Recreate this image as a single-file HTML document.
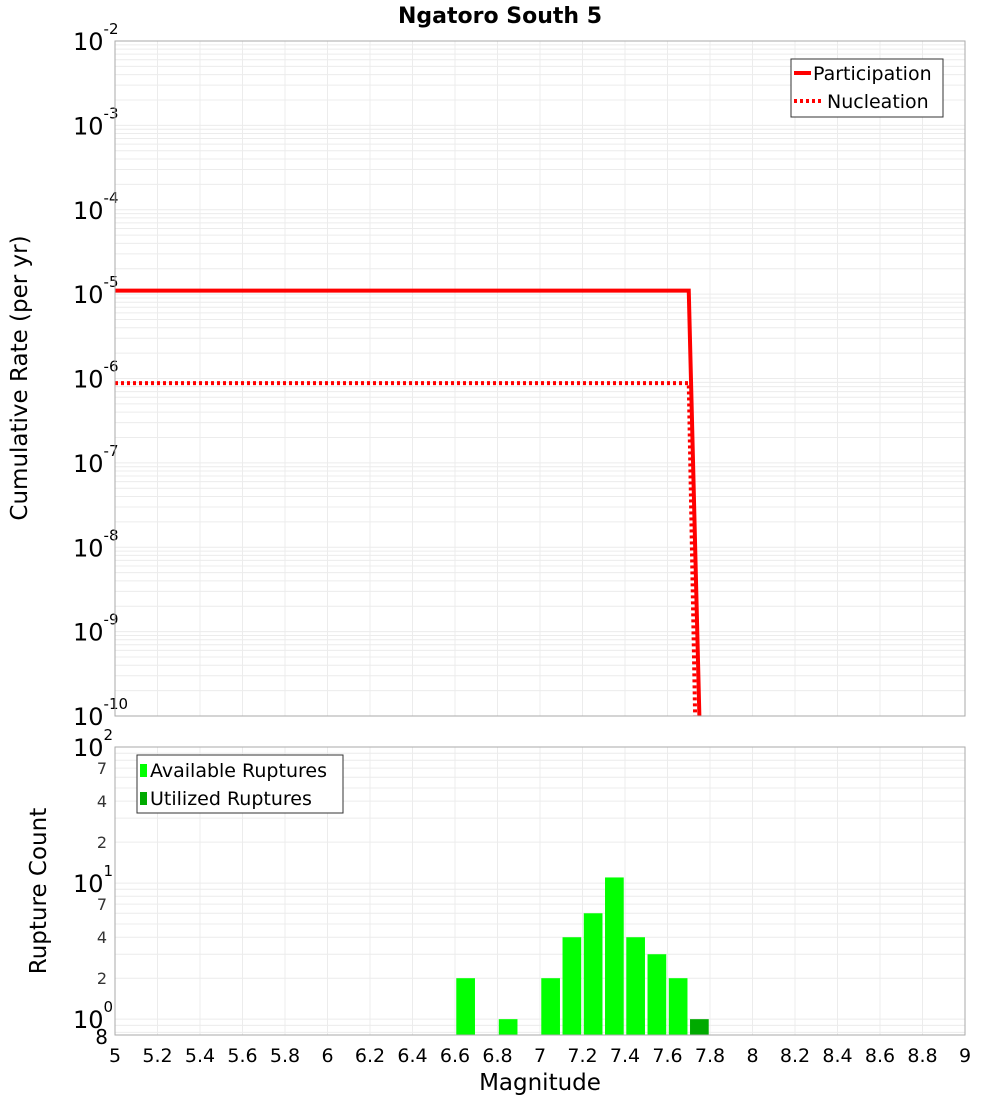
<!DOCTYPE html>
<html><head><meta charset="utf-8"><style>
body{margin:0;background:#fff;width:1000px;height:1100px;overflow:hidden}
svg{font-family:"DejaVu Sans","Liberation Sans",sans-serif}
</style></head><body>
<svg id="chart" width="1000" height="1100" xmlns="http://www.w3.org/2000/svg">
<text x="500" y="23" text-anchor="middle" font-size="22" font-weight="bold">Ngatoro South 5</text>
<g id="top"></g><g id="bot"></g>
<text transform="translate(27,378) rotate(-90)" text-anchor="middle" font-size="23">Cumulative Rate (per yr)</text>
<text transform="translate(46,891) rotate(-90)" text-anchor="middle" font-size="23">Rupture Count</text>
<text x="540" y="1090" text-anchor="middle" font-size="23">Magnitude</text>
</svg>
<script>
const xTicks=[5,5.2,5.4,5.6,5.8,6,6.2,6.4,6.6,6.8,7,7.2,7.4,7.6,7.8,8,8.2,8.4,8.6,8.8,9];
const topDecades=[-10,-9,-8,-7,-6,-5,-4,-3,-2];
const partM=[5,7.7,7.75];
const partRate=[1.1e-5,1.1e-5,1e-10];
const nuclM=[5,7.7,7.73];
const nuclRate=[8.8e-7,8.8e-7,1e-10];
const binM=[6.65,6.85,7.05,7.15,7.25,7.35,7.45,7.55,7.65];
const binCount=[2,1,2,4,6,11,4,3,2];
const usedM=[7.75];
const usedCount=[1];
const botMinor=[2,4,7];

const NS="http://www.w3.org/2000/svg";
const L=115,R=965,T1=41,B1=716,T2=747,B2=1035;
const xs=m=>L+(m-5)/(9-5)*(R-L);
const y1=v=>B1-(Math.log10(v)+10)/8*(B1-T1);
const bmin=Math.log10(0.765);
const y2=v=>B2-(Math.log10(v)-bmin)/(2-bmin)*(B2-T2);
function mk(p,tag,a){const e=document.createElementNS(NS,tag);for(const k in a)e.setAttribute(k,a[k]);p.appendChild(e);return e;}
const gTop=document.getElementById('top'),gBot=document.getElementById('bot');

[[gTop,T1,B1],[gBot,T2,B2]].forEach(([g,t,b])=>{
  xTicks.forEach(m=>{const l=mk(g,'line',{x1:xs(m),x2:xs(m),y1:t,y2:b,stroke:'#ececec'});
  
  });
});
topDecades.forEach(d=>{for(let k=1;k<10;k++){const v=k*Math.pow(10,d);if(v>1e-2*1.0001)break;
  const l=mk(gTop,'line',{x1:L,x2:R,y1:y1(v),y2:y1(v),stroke:'#ececec'});
  
  }});
[0,1].forEach(d=>{for(let k=1;k<10;k++){const v=k*Math.pow(10,d);
  const l=mk(gBot,'line',{x1:L,x2:R,y1:y2(v),y2:y2(v),stroke:'#ececec'});
  
  }});
[0.8,0.9].forEach(v=>{const l=mk(gBot,'line',{x1:L,x2:R,y1:y2(v),y2:y2(v),stroke:'#ececec'});
  
  });

topDecades.forEach(d=>{const t=mk(gTop,'text',{x:73,y:y1(Math.pow(10,d))+9,'font-size':24});
  
  
  t.textContent='10';const s=mk(t,'tspan',{dy:-16,'font-size':15});s.textContent=String(d);});
[0,1,2].forEach(d=>{const t=mk(gBot,'text',{x:73,y:y2(Math.pow(10,d))+9,'font-size':24});
  
  
  t.textContent='10';const s=mk(t,'tspan',{dy:-16,'font-size':15});s.textContent=String(d);});
[0,1].forEach(d=>botMinor.forEach(k=>{const t=mk(gBot,'text',{x:107,y:y2(k*Math.pow(10,d))+6,'font-size':16,'text-anchor':'end',fill:'#333'});
  
  
  t.textContent=String(k);}));
{const t=mk(gBot,'text',{x:108,y:B2+9,'font-size':20,'text-anchor':'end'});
 
 
 t.textContent='8';}
xTicks.forEach(m=>{const t=mk(gBot,'text',{x:xs(m),y:1062,'font-size':19,'text-anchor':'middle'});
  
  
  t.textContent=String(m);});

const pp=mk(gTop,'polyline',{points:partM.map((m,i)=>xs(m)+','+y1(partRate[i])).join(' '),fill:'none',stroke:'#ff0000','stroke-width':4});


const np=mk(gTop,'polyline',{points:nuclM.map((m,i)=>xs(m)+','+y1(nuclRate[i])).join(' '),fill:'none',stroke:'#ff0000','stroke-width':4,'stroke-dasharray':'3,3'});



const bw=(xs(5.1)-xs(5))*0.88;
binM.forEach((m,i)=>{const r=mk(gBot,'rect',{x:xs(m)-bw/2,y:y2(binCount[i]),width:bw,height:B2-y2(binCount[i]),fill:'#00ff00'});
  
  });
usedM.forEach((m,i)=>{const r=mk(gBot,'rect',{x:xs(m)-bw/2,y:y2(usedCount[i]),width:bw,height:B2-y2(usedCount[i]),fill:'#00aa00'});
  
  });

[[T1,B1],[T2,B2]].forEach(([t,b],i)=>{const r=mk(i?gBot:gTop,'rect',{x:L,y:t,width:R-L,height:b-t,fill:'none',stroke:'#aaa'});
  
  });

const lg=mk(gTop,'g',{});


mk(lg,'rect',{x:791,y:59,width:152,height:58,fill:'#fff',stroke:'#333'});
mk(lg,'line',{x1:794,x2:811,y1:73,y2:73,stroke:'#f00','stroke-width':4});
mk(lg,'line',{x1:794,x2:822,y1:101,y2:101,stroke:'#f00','stroke-width':4,'stroke-dasharray':'3,3'});
let tt=mk(lg,'text',{x:813,y:80,'font-size':19});tt.textContent='Participation';
tt=mk(lg,'text',{x:827,y:108,'font-size':19});tt.textContent='Nucleation';
const lg2=mk(gBot,'g',{});


mk(lg2,'rect',{x:137,y:755,width:206,height:58,fill:'#fff',stroke:'#333'});
mk(lg2,'rect',{x:140,y:764,width:7,height:13,fill:'#00ff00'});
mk(lg2,'rect',{x:140,y:792,width:7,height:13,fill:'#00aa00'});
tt=mk(lg2,'text',{x:150,y:777,'font-size':19});tt.textContent='Available Ruptures';
tt=mk(lg2,'text',{x:150,y:805,'font-size':19});tt.textContent='Utilized Ruptures';
</script>
</body></html>
